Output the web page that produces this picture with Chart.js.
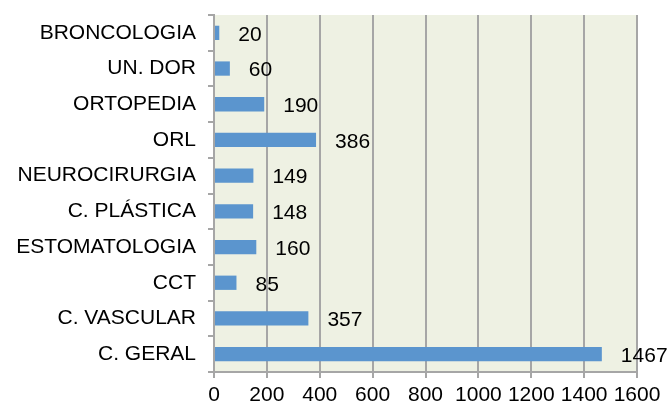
<!DOCTYPE html>
<html>
<head>
<meta charset="utf-8">
<script src="https://cdn.jsdelivr.net/npm/chart.js@4"></script>
<style>
html,body{margin:0;padding:0;background:#fff;}
#wrap{width:672px;height:410px;position:relative;}
</style>
</head>
<body>
<div id="wrap"><canvas id="c" width="672" height="410"></canvas></div>
<script>
const categories = ["BRONCOLOGIA","UN. DOR","ORTOPEDIA","ORL","NEUROCIRURGIA","C. PLÁSTICA","ESTOMATOLOGIA","CCT","C. VASCULAR","C. GERAL"];
const values = [20,60,190,386,149,148,160,85,357,1467];
const xTicks = [0,200,400,600,800,1000,1200,1400,1600];

const FONT = "'Liberation Sans', Arial, sans-serif";
const GRID = "#A6A6A6";

const bgPlugin = {
  id: 'bg',
  beforeDraw(chart) {
    const {ctx, chartArea: a} = chart;
    ctx.save();
    ctx.fillStyle = '#EEF1E3';
    ctx.fillRect(a.left, a.top, a.right - a.left, a.bottom - a.top);
    ctx.restore();
  }
};
const labelPlugin = {
  id: 'dl',
  afterDatasetsDraw(chart) {
    const ctx = chart.ctx;
    const meta = chart.getDatasetMeta(0);
    ctx.save();
    ctx.font = "21px " + FONT;
    ctx.fillStyle = '#000';
    ctx.textAlign = 'left';
    ctx.textBaseline = 'middle';
    meta.data.forEach((bar, i) => {
      ctx.fillText(String(values[i]), bar.x + 19, bar.y + 2);
    });
    ctx.restore();
  }
};

new Chart(document.getElementById('c'), {
  type: 'bar',
  data: {
    labels: categories,
    datasets: [{
      data: values,
      backgroundColor: '#5B95CE',
      borderWidth: 0,
      barPercentage: 0.4,
      categoryPercentage: 1.0
    }]
  },
  options: {
    indexAxis: 'y',
    responsive: false,
    animation: false,
    events: [],
    layout: { padding: { top: 15, right: 35, left: 0, bottom: 0 } },
    plugins: { legend: { display: false }, tooltip: { enabled: false } },
    scales: {
      x: {
        min: 0, max: 1600,
        afterBuildTicks(axis) { axis.ticks = xTicks.map(v => ({ value: v })); },
        afterFit(axis) { axis.height = 38; },
        grid: { color: GRID, lineWidth: 2, tickLength: 6, drawOnChartArea: true },
        border: { color: GRID, width: 2 },
        ticks: { color: '#000', font: { size: 21, family: FONT }, padding: 5, maxRotation: 0, minRotation: 0, autoSkip: false, callback: v => String(v) }
      },
      y: {
        afterFit(axis) { axis.width = 214; axis.paddingTop = 0; axis.paddingBottom = 0; },
        grid: { color: GRID, lineWidth: 2, tickLength: 6, drawOnChartArea: false, offset: true },
        border: { color: GRID, width: 2 },
        ticks: { color: '#000', font: { size: 21, family: FONT }, padding: 12 }
      }
    }
  },
  plugins: [bgPlugin, labelPlugin]
});
</script>
</body>
</html>
